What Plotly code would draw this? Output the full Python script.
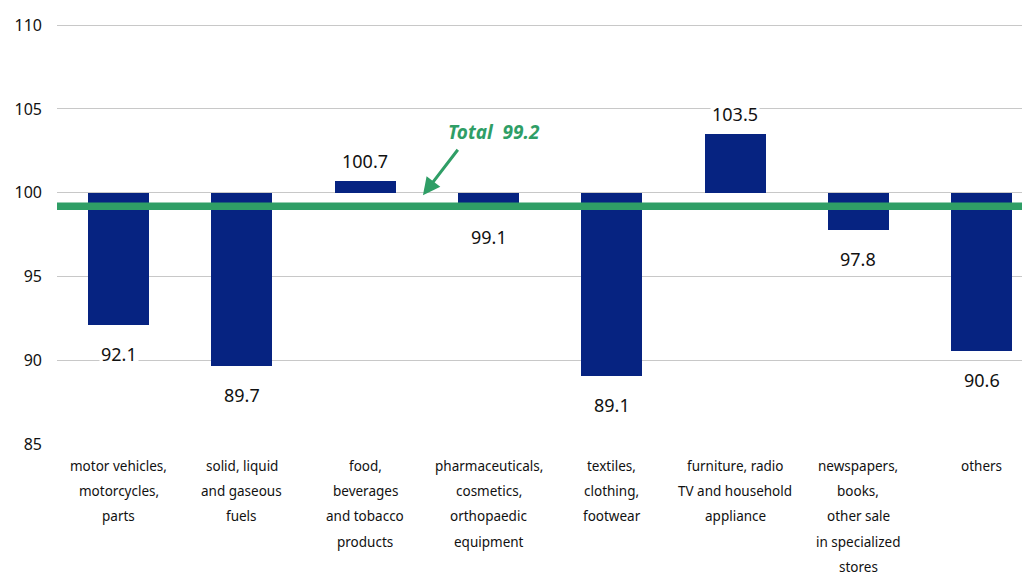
import plotly.graph_objects as go

categories = [
    "motor vehicles,\nmotorcycles,\nparts",
    "solid, liquid\nand gaseous\nfuels",
    "food,\nbeverages\nand tobacco\nproducts",
    "pharmaceuticals,\ncosmetics,\northopaedic\nequipment",
    "textiles,\nclothing,\nfootwear",
    "furniture, radio\nTV and household\nappliance",
    "newspapers,\nbooks,\nother sale\nin specialized\nstores",
    "others",
]
values = [92.1, 89.7, 100.7, 99.1, 89.1, 103.5, 97.8, 90.6]
base_value = 100
total_value = 99.2
y_ticks = [85, 90, 95, 100, 105, 110]

BAR = "#062381"
GREEN = "#2f9e66"
FONT = "Noto Sans"

x = list(range(len(categories)))
fig = go.Figure()
fig.add_trace(go.Bar(
    x=x,
    y=[v - base_value for v in values],
    base=[base_value] * len(values),
    width=0.495,
    marker=dict(color=BAR, line=dict(width=0)),
    hoverinfo="skip",
))

annotations = []
# data labels
for i, v in enumerate(values):
    above = v >= base_value
    annotations.append(dict(
        x=i, y=v, xref="x", yref="y", text=f"{v:.1f}", showarrow=False,
        font=dict(family=FONT, size=18, color="#111111"),
        bgcolor="white", yanchor="middle",
        yshift=20 if above else -29,
    ))
# category labels (multi-line with wider line spacing)
for i, c in enumerate(categories):
    for k, line in enumerate(c.split("\n")):
        annotations.append(dict(
            x=i, y=0, xref="x", yref="paper", text=line, showarrow=False,
            font=dict(family=FONT, size=13.5, color="#111111"),
            yanchor="middle", yshift=-21 - 25.2 * k,
        ))
# Total annotation
annotations.append(dict(
    x=3.044, y=103.6, xref="x", yref="y",
    text="<b><i>Total\u00a0\u00a0" + f"{total_value}" + "</i></b>",
    showarrow=False, font=dict(family=FONT, size=19, color=GREEN),
))
annotations.append(dict(
    x=2.468, y=99.86, xref="x", yref="y", text="", showarrow=True,
    ax=36, ay=-47, arrowhead=2, arrowsize=1.15, arrowwidth=3,
    arrowcolor=GREEN, standoff=0,
))

fig.update_layout(
    width=1030, height=572,
    margin=dict(l=49, r=0, t=15, b=135),
    plot_bgcolor="white", paper_bgcolor="white",
    showlegend=False,
    bargap=0,
    font=dict(family=FONT, color="#111111"),
    shapes=[dict(
        type="line", xref="paper", yref="y", x0=0, x1=1,
        y0=total_value, y1=total_value,
        line=dict(color=GREEN, width=7.5), layer="above",
    )],
    annotations=annotations,
)
fig.update_xaxes(range=[-0.5, 7.456], showticklabels=False, showgrid=False,
                 zeroline=False, showline=False, fixedrange=True)
fig.update_yaxes(range=[84.98, 110.12], tickvals=y_ticks, showgrid=True,
                 gridcolor="#c8c8c8", gridwidth=1.3, zeroline=False,
                 showline=False, ticklabelstandoff=14,
                 tickfont=dict(family=FONT, size=16, color="#111111"))

fig.write_html("out.html")
